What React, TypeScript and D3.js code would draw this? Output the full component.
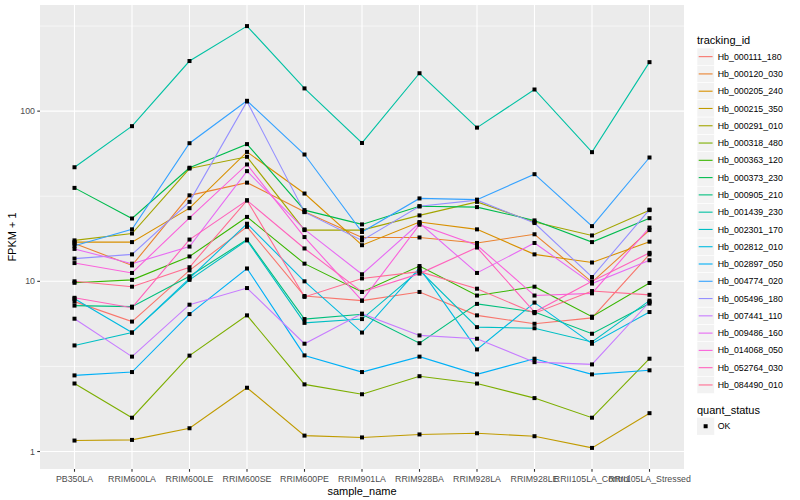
import { useEffect, useRef } from "react";
import * as d3 from "d3";

const samples = [
  "PB350LA", "RRIM600LA", "RRIM600LE", "RRIM600SE", "RRIM600PE", "RRIM901LA",
  "RRIM928BA", "RRIM928LA", "RRIM928LE", "RRII105LA_Control", "RRII105LA_Stressed",
];

const trackingIds = [
  "Hb_000111_180", "Hb_000120_030", "Hb_000205_240", "Hb_000215_350", "Hb_000291_010",
  "Hb_000318_480", "Hb_000363_120", "Hb_000373_230", "Hb_000905_210", "Hb_001439_230",
  "Hb_002301_170", "Hb_002812_010", "Hb_002897_050", "Hb_004774_020", "Hb_005496_180",
  "Hb_007441_110", "Hb_009486_160", "Hb_014068_050", "Hb_052764_030", "Hb_084490_010",
];

// ggplot hue palette for 20 levels
const colors = [
  "#F8766D", "#EA8331", "#D89000", "#C09B00", "#A3A500", "#7CAE00", "#39B600", "#00BB4E",
  "#00BF7D", "#00C1A3", "#00BFC4", "#00BAE0", "#00B0F6", "#35A2FF", "#9590FF", "#C77CFF",
  "#E76BF3", "#FA62DB", "#FF62BC", "#FF6C91",
];

// FPKM + 1, one row per tracking_id, one value per sample
const hb000111 = [7.6, 5.8, 11.6, 20.9, 8.2, 7.7, 8.66, 6.31, 5.63, 6.1, 14.4];
const hb000120 = [16.7, 12.4, 32.0, 38.0, 25.6, 18.1, 18.1, 16.8, 18.9, 9.9, 20.0];
const hb000205 = [17.0, 17.0, 26.9, 57.6, 32.8, 16.3, 22.3, 20.2, 14.4, 12.9, 17.1];
const hb000215 = [1.16, 1.17, 1.37, 2.37, 1.24, 1.21, 1.26, 1.28, 1.23, 1.05, 1.68];
const hb000291 = [17.4, 19.1, 46.0, 53.9, 20.0, 20.0, 24.4, 29.3, 22.3, 18.6, 26.2];
const hb000318 = [2.51, 1.58, 3.66, 6.31, 2.48, 2.17, 2.77, 2.51, 2.06, 1.58, 3.51];
const hb000363 = [9.8, 10.2, 14.0, 23.9, 12.7, 8.66, 12.3, 8.25, 9.3, 6.2, 9.78];
const hb000373 = [35.4, 23.4, 46.5, 64.0, 26.2, 21.6, 27.6, 27.3, 22.8, 17.0, 23.5];
const hb000905 = [7.2, 7.1, 10.7, 17.6, 6.0, 6.4, 4.33, 7.37, 6.6, 4.92, 7.4];
const hb001439 = [46.8, 81.6, 197, 316, 136, 65, 167, 80, 134, 57.4, 194];
const hb002301 = [4.2, 5.0, 10.2, 17.4, 5.7, 6.0, 11.6, 5.38, 5.3, 4.4, 7.7];
const hb002812 = [7.9, 5.0, 10.4, 21.8, 10.0, 5.0, 12.0, 3.98, 7.5, 4.3, 6.6];
const hb002897 = [2.8, 2.93, 6.42, 11.9, 3.67, 2.93, 3.61, 2.84, 3.51, 2.84, 3.0];
const hb004774 = [16.2, 20.2, 64.8, 115, 55.6, 19.5, 30.7, 30.2, 42.6, 21.1, 53.4];
const hb005496 = [13.6, 14.4, 29.3, 114, 25.5, 17.4, 27.6, 30.0, 22.0, 10.6, 26.4];
const hb007441 = [6.03, 3.61, 7.29, 9.13, 4.3, 6.46, 4.81, 4.6, 3.35, 3.25, 7.56];
const hb009486 = [15.5, 12.7, 16.0, 44.4, 20.2, 11.0, 22.0, 11.2, 16.8, 9.7, 13.3];
const hb014068 = [12.8, 11.2, 23.6, 48.6, 18.2, 7.7, 21.5, 16.3, 8.25, 8.5, 20.7];
const hb052764 = [8.0, 7.0, 17.6, 29.9, 15.6, 8.66, 11.1, 15.8, 6.6, 10.0, 14.7];
const hb084490 = [10.0, 9.3, 12.1, 29.9, 8.1, 10.4, 11.4, 9.05, 6.5, 8.77, 8.33];

const fpkm = [
  hb000111, hb000120, hb000205, hb000215, hb000291, hb000318, hb000363, hb000373,
  hb000905, hb001439, hb002301, hb002812, hb002897, hb004774, hb005496, hb007441,
  hb009486, hb014068, hb052764, hb084490,
];

const yTicks = [1, 10, 100];
const yMinor = [Math.pow(10, 0.5), Math.pow(10, 1.5), Math.pow(10, 2.5)];

const FONT = "'Liberation Sans', Arial, Helvetica, sans-serif";

export default function App() {
  const svgRef = useRef<SVGSVGElement>(null);

  useEffect(() => {
    if (!svgRef.current) return;
    const svg = d3.select(svgRef.current);
    svg.selectAll("*").remove();

    const width = 800;
    const height = 500;
    const panel = { left: 40, right: 684, top: 5, bottom: 469 };

    svg.append("rect").attr("width", width).attr("height", height).attr("fill", "#ffffff");

    const x = d3
      .scalePoint<string>()
      .domain(samples)
      .range([panel.left, panel.right])
      .padding(0.6);

    // log scale with ggplot-like 5% expansion in log space
    const all = fpkm.flat();
    const [lo, hi] = d3.extent(all) as [number, number];
    const lLo = Math.log10(lo);
    const lHi = Math.log10(hi);
    const pad = (lHi - lLo) * 0.05;
    const y = d3
      .scaleLog()
      .domain([Math.pow(10, lLo - pad), Math.pow(10, lHi + pad)])
      .range([panel.bottom, panel.top]);

    // panel background
    svg
      .append("rect")
      .attr("x", panel.left)
      .attr("y", panel.top)
      .attr("width", panel.right - panel.left)
      .attr("height", panel.bottom - panel.top)
      .attr("fill", "#EBEBEB");

    const grid = svg.append("g");
    yMinor.forEach((v) => {
      grid
        .append("line")
        .attr("x1", panel.left)
        .attr("x2", panel.right)
        .attr("y1", y(v))
        .attr("y2", y(v))
        .attr("stroke", "#ffffff")
        .attr("stroke-width", 0.6);
    });
    yTicks.forEach((v) => {
      grid
        .append("line")
        .attr("x1", panel.left)
        .attr("x2", panel.right)
        .attr("y1", y(v))
        .attr("y2", y(v))
        .attr("stroke", "#ffffff")
        .attr("stroke-width", 1.1);
    });
    samples.forEach((s) => {
      grid
        .append("line")
        .attr("x1", x(s)!)
        .attr("x2", x(s)!)
        .attr("y1", panel.top)
        .attr("y2", panel.bottom)
        .attr("stroke", "#ffffff")
        .attr("stroke-width", 1.1);
    });

    // lines
    const line = d3
      .line<number>()
      .x((_, i) => x(samples[i])!)
      .y((d) => y(d));

    const lines = svg.append("g");
    fpkm.forEach((vals, k) => {
      lines
        .append("path")
        .attr("d", line(vals))
        .attr("fill", "none")
        .attr("stroke", colors[k])
        .attr("stroke-width", 1.1);
    });

    // points
    const pts = svg.append("g");
    fpkm.forEach((vals) => {
      vals.forEach((v, i) => {
        pts
          .append("rect")
          .attr("x", x(samples[i])! - 2)
          .attr("y", y(v) - 2)
          .attr("width", 4)
          .attr("height", 4)
          .attr("fill", "#000000");
      });
    });

    // y axis
    const yAxis = svg.append("g");
    yTicks.forEach((v) => {
      yAxis
        .append("line")
        .attr("x1", panel.left - 2.75)
        .attr("x2", panel.left)
        .attr("y1", y(v))
        .attr("y2", y(v))
        .attr("stroke", "#333333")
        .attr("stroke-width", 1.1);
      yAxis
        .append("text")
        .attr("x", panel.left - 5)
        .attr("y", y(v))
        .attr("dy", "0.35em")
        .attr("text-anchor", "end")
        .attr("font-family", FONT)
        .attr("font-size", 8.8)
        .attr("fill", "#4D4D4D")
        .text(String(v));
    });

    // x axis
    const xAxis = svg.append("g");
    samples.forEach((s) => {
      xAxis
        .append("line")
        .attr("x1", x(s)!)
        .attr("x2", x(s)!)
        .attr("y1", panel.bottom)
        .attr("y2", panel.bottom + 2.75)
        .attr("stroke", "#333333")
        .attr("stroke-width", 1.1);
      xAxis
        .append("text")
        .attr("x", x(s)!)
        .attr("y", panel.bottom + 12.5)
        .attr("text-anchor", "middle")
        .attr("font-family", FONT)
        .attr("font-size", 8.8)
        .attr("fill", "#4D4D4D")
        .text(s);
    });

    // axis titles
    svg
      .append("text")
      .attr("x", (panel.left + panel.right) / 2)
      .attr("y", 495)
      .attr("text-anchor", "middle")
      .attr("font-family", FONT)
      .attr("font-size", 11)
      .attr("fill", "#000000")
      .text("sample_name");

    svg
      .append("text")
      .attr("transform", `translate(16, ${(panel.top + panel.bottom) / 2}) rotate(-90)`)
      .attr("text-anchor", "middle")
      .attr("font-family", FONT)
      .attr("font-size", 11)
      .attr("fill", "#000000")
      .text("FPKM + 1");

    // legend: tracking_id
    const legend = svg.append("g").attr("transform", "translate(697, 0)");
    const keySize = 17.28;
    const firstKey = 48;

    legend
      .append("text")
      .attr("x", 0)
      .attr("y", 44)
      .attr("font-family", FONT)
      .attr("font-size", 11)
      .attr("fill", "#000000")
      .text("tracking_id");

    trackingIds.forEach((id, k) => {
      const top = firstKey + k * keySize;
      legend
        .append("rect")
        .attr("x", 0)
        .attr("y", top)
        .attr("width", keySize)
        .attr("height", keySize)
        .attr("fill", "#F2F2F2")
        .attr("stroke", "#ffffff")
        .attr("stroke-width", 0.6);
      legend
        .append("line")
        .attr("x1", 1.7)
        .attr("x2", keySize - 1.7)
        .attr("y1", top + keySize / 2)
        .attr("y2", top + keySize / 2)
        .attr("stroke", colors[k])
        .attr("stroke-width", 1.1);
      legend
        .append("text")
        .attr("x", keySize + 3.5)
        .attr("y", top + keySize / 2)
        .attr("dy", "0.35em")
        .attr("font-family", FONT)
        .attr("font-size", 8.8)
        .attr("fill", "#000000")
        .text(id);
    });

    // legend: quant_status
    const qTop = firstKey + trackingIds.length * keySize;
    legend
      .append("text")
      .attr("x", 0)
      .attr("y", qTop + 20)
      .attr("font-family", FONT)
      .attr("font-size", 11)
      .attr("fill", "#000000")
      .text("quant_status");
    const okTop = qTop + 24;
    legend
      .append("rect")
      .attr("x", 0)
      .attr("y", okTop)
      .attr("width", keySize)
      .attr("height", keySize)
      .attr("fill", "#F2F2F2");
    legend
      .append("rect")
      .attr("x", keySize / 2 - 2)
      .attr("y", okTop + keySize / 2 - 2)
      .attr("width", 4)
      .attr("height", 4)
      .attr("fill", "#000000");
    legend
      .append("text")
      .attr("x", keySize + 3.5)
      .attr("y", okTop + keySize / 2)
      .attr("dy", "0.35em")
      .attr("font-family", FONT)
      .attr("font-size", 8.8)
      .attr("fill", "#000000")
      .text("OK");
  }, []);

  return (
    <svg
      ref={svgRef}
      width={800}
      height={500}
      viewBox="0 0 800 500"
      style={{ position: "absolute", left: 0, top: 0, display: "block" }}
    />
  );
}
